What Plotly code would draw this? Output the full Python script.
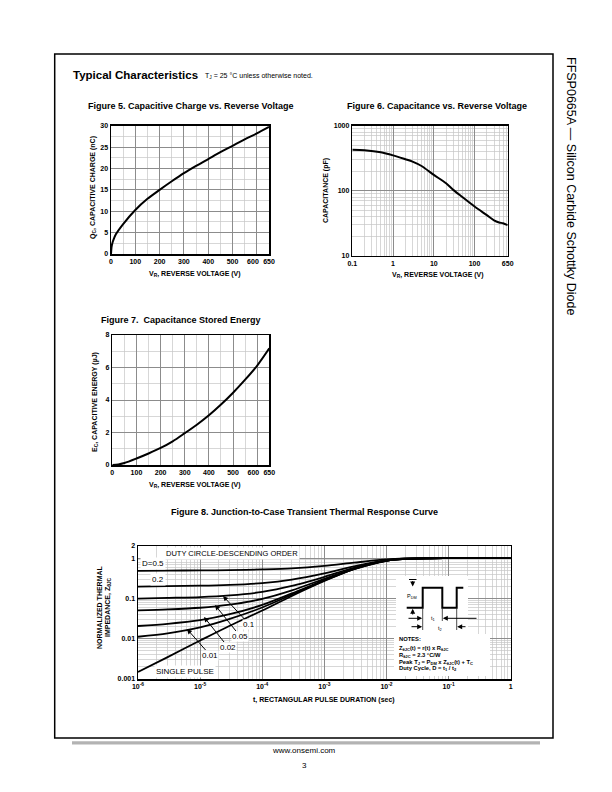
import plotly.graph_objects as go

FONT = "Liberation Sans, Arial, Helvetica, sans-serif"
W, H = 612, 792

# ---------------- data ----------------
# Figure 5 - capacitive charge
fig5_vr = [0, 2, 5, 10, 20, 50, 100, 150, 200, 250, 300, 350, 400, 450, 500, 550, 600, 650]
fig5_qc = [0, 1.5, 2.4, 3.3, 4.6, 7.0, 10.3, 12.9, 15.0, 17.0, 18.9, 20.6, 22.2, 23.8, 25.3, 26.8, 28.2, 29.7]
fig5_xticks = [0, 100, 200, 300, 400, 500, 600, 650]
fig5_xticktext = ["0", "100", "200", "300", "400", "500", "600\u2007\u2007", "\u2007650\u2007"]
fig5_yticks = [0, 5, 10, 15, 20, 25, 30]

# Figure 6 - capacitance
fig6_vr = [0.1, 0.2, 0.5, 1, 2, 3, 5, 10, 20, 30, 50, 100, 200, 300, 400, 500, 650]
fig6_c = [425, 418, 390, 350, 305, 280, 240, 175, 130, 103, 80, 57, 42, 35, 32.5, 31.5, 29.5]
fig6_xticks = [0.1, 1, 10, 100, 650]
fig6_xticktext = ["0.1", "1", "10", "100", "650"]
fig6_yticks = [10, 100, 1000]

# Figure 7 - stored energy
fig7_vr = [0, 25, 50, 100, 150, 200, 250, 300, 350, 400, 450, 500, 550, 600, 650]
fig7_ec = [0, 0.03, 0.12, 0.40, 0.71, 1.05, 1.46, 1.96, 2.48, 3.06, 3.72, 4.45, 5.25, 6.12, 7.18]
fig7_xticks = [0, 100, 200, 300, 400, 500, 600, 650]
fig7_xticktext = ["0", "100", "200", "300", "400", "500", "600\u2007\u2007", "\u2007650\u2007"]
fig7_yticks = [0, 2, 4, 6, 8]

# Figure 8 - transient thermal response
fig8_t = [1e-6, 3e-6, 1e-5, 3e-5, 1e-4, 3e-4, 1e-3, 3e-3, 1e-2, 2e-2, 5e-2, 1e-1, 1]
fig8_single = [0.0015, 0.0035, 0.009, 0.021, 0.050, 0.115, 0.27, 0.53, 0.86, 0.96, 0.99, 1.0, 1.0]
fig8_d001 = [0.0112, 0.0135, 0.019, 0.031, 0.0595, 0.124, 0.277, 0.535, 0.861, 0.96, 0.99, 1.0, 1.0]
fig8_d002 = [0.0207, 0.0234, 0.0288, 0.0406, 0.069, 0.133, 0.285, 0.54, 0.863, 0.961, 0.99, 1.0, 1.0]
fig8_d005 = [0.0505, 0.0533, 0.0586, 0.070, 0.0975, 0.159, 0.306, 0.553, 0.867, 0.962, 0.99, 1.0, 1.0]
fig8_d010 = [0.099, 0.103, 0.108, 0.119, 0.145, 0.204, 0.343, 0.577, 0.874, 0.964, 0.991, 1.0, 1.0]
fig8_d020 = [0.196, 0.203, 0.207, 0.217, 0.240, 0.292, 0.416, 0.624, 0.888, 0.968, 0.992, 1.0, 1.0]
fig8_d050 = [0.48, 0.49, 0.495, 0.505, 0.525, 0.557, 0.64, 0.77, 0.93, 0.98, 0.995, 1.0, 1.0]
fig8_xticks = [1e-6, 1e-5, 1e-4, 1e-3, 1e-2, 1e-1, 1]
fig8_xticktext = ["10<sup>-6</sup>", "10<sup>-5</sup>", "10<sup>-4</sup>", "10<sup>-3</sup>",
                  "10<sup>-2</sup>", "10<sup>-1</sup>", "1"]
fig8_yticks = [0.001, 0.01, 0.1, 1, 2]
fig8_yticktext = ["0.001", "0.01", "0.1", "1", "2"]


# ---------------- helpers ----------------
def px(x):
    return x / W


def py(y):
    return 1 - y / H


def log_minor(k0, k1, vmax):
    return [m * 10 ** k for k in range(k0, k1) for m in range(2, 10) if m * 10 ** k < vmax]


TICKFONT = dict(family=FONT, size=7, color="#000000", weight="bold")
MAJOR_GRID = "#8c8c8c"
MINOR_GRID = "#c6c6c6"


def axis(x0, x1, anchor, rng, tickvals, ticktext=None, typ="linear", minor=None):
    d = dict(domain=[x0, x1], anchor=anchor, range=rng, type=typ,
             showline=True, linecolor="black", linewidth=1.5, mirror=True,
             ticks="", showgrid=True, gridcolor=MAJOR_GRID, gridwidth=1,
             zeroline=False, tickfont=TICKFONT, tickmode="array", tickangle=0,
             tickvals=tickvals, ticktext=ticktext if ticktext else [str(v) for v in tickvals],
             fixedrange=True, automargin=False)
    if minor is not None:
        m = dict(showgrid=True, gridcolor=MINOR_GRID, gridwidth=0.7, ticks="")
        m.update(minor)
        d["minor"] = m
    return d


fig = go.Figure()
LINE = dict(color="black", width=2)

fig.add_trace(go.Scatter(x=fig5_vr, y=fig5_qc, mode="lines", line=dict(LINE, shape="spline", smoothing=0.8),
                         xaxis="x", yaxis="y", showlegend=False, hoverinfo="skip"))
fig.add_trace(go.Scatter(x=fig6_vr, y=fig6_c, mode="lines", line=dict(LINE, shape="spline", smoothing=0.8),
                         xaxis="x2", yaxis="y2", showlegend=False, hoverinfo="skip"))
fig.add_trace(go.Scatter(x=fig7_vr, y=fig7_ec, mode="lines", line=dict(LINE, shape="spline", smoothing=0.8),
                         xaxis="x3", yaxis="y3", showlegend=False, hoverinfo="skip"))
for series in [fig8_d050, fig8_d020, fig8_d010, fig8_d005, fig8_d002, fig8_d001, fig8_single]:
    fig.add_trace(go.Scatter(x=fig8_t, y=series, mode="lines",
                             line=dict(color="black", width=1.8, shape="spline", smoothing=0.8),
                             xaxis="x4", yaxis="y4", showlegend=False, hoverinfo="skip"))

layout = dict(
    width=W, height=H, autosize=False,
    margin=dict(l=0, r=0, t=0, b=0, pad=0, autoexpand=False),
    paper_bgcolor="white", plot_bgcolor="white", showlegend=False,
    font=dict(family=FONT, color="black"),
    xaxis=axis(px(111), px(269), "y", [0, 650], fig5_xticks, fig5_xticktext,
               minor=dict(tickmode="linear", tick0=0, dtick=50)),
    yaxis=axis(py(254), py(125.7), "x", [0, 30], fig5_yticks,
               minor=dict(tickmode="linear", tick0=0, dtick=2.5)),
    xaxis2=axis(px(352.3), px(507.7), "y2", [-1, 2.8129], fig6_xticks, fig6_xticktext, typ="log",
                minor=dict(tickmode="array", tickvals=log_minor(-1, 3, 650))),
    yaxis2=axis(py(255.7), py(125.7), "x2", [1, 3], fig6_yticks, typ="log",
                minor=dict(tickmode="array", tickvals=log_minor(1, 3, 1000))),
    xaxis3=axis(px(112.3), px(269.3), "y3", [0, 650], fig7_xticks, fig7_xticktext,
                minor=dict(tickmode="linear", tick0=0, dtick=50)),
    yaxis3=axis(py(465), py(335), "x3", [0, 8], fig7_yticks,
                minor=dict(tickmode="linear", tick0=0, dtick=1)),
    xaxis4=axis(px(138), px(510.7), "y4", [-6, 0], fig8_xticks, fig8_xticktext, typ="log",
                minor=dict(tickmode="array", tickvals=log_minor(-6, 0, 1))),
    yaxis4=axis(py(679), py(546), "x4", [-3, 0.30103], fig8_yticks, fig8_yticktext, typ="log",
                minor=dict(tickmode="array", tickvals=log_minor(-3, 1, 2))),
)
fig.update_layout(**layout)

annotations = []


def ann(text, x, y, size=7, xanchor="center", yanchor="middle", angle=0, bg=None, **kw):
    a = dict(text=text, x=px(x), y=py(y), xref="paper", yref="paper", showarrow=False,
             xanchor=xanchor, yanchor=yanchor, textangle=angle,
             font=dict(family=FONT, size=size, color="black"))
    if bg:
        a["bgcolor"] = bg
        a["borderpad"] = 1
    a.update(kw)
    annotations.append(a)


# page header / titles
ann("<b>Typical Characteristics</b>", 71, 75, size=11.5, xanchor="left")
ann("T<sub>J</sub> = 25 °C unless otherwise noted.", 203, 76, size=7, xanchor="left")
ann("<b>Figure 5. Capacitive Charge vs. Reverse Voltage</b>", 190, 106, size=9)
ann("<b>Figure 6. Capacitance vs. Reverse Voltage</b>", 437, 106, size=9)
ann("<b>Figure 7.  Capacitance Stored Energy</b>", 181, 320, size=9)
ann("<b>Figure 8. Junction-to-Case Transient Thermal Response Curve</b>", 304, 512, size=9)

# axis titles
ann("<b>Q<sub>C</sub>, CAPACITIVE CHARGE (nC)</b>", 93, 187, size=7, angle=-90)
ann("<b>V<sub>R</sub>, REVERSE VOLTAGE (V)</b>", 195, 274, size=7)
ann("<b>CAPACITANCE (pF)</b>", 326, 191, size=7, angle=-90)
ann("<b>V<sub>R</sub>, REVERSE VOLTAGE (V)</b>", 438, 275, size=7)
ann("<b>E<sub>C</sub>, CAPACITIVE ENERGY (µJ)</b>", 95, 402, size=7, angle=-90)
ann("<b>V<sub>R</sub>, REVERSE VOLTAGE (V)</b>", 195, 485, size=7)
ann("<b>NORMALIZED THERMAL</b>", 99, 607, size=7, angle=-90)
ann("<b>IMPEDANCE, Z<sub>θJC</sub></b>", 108, 607, size=7, angle=-90)
ann("<b>t, RECTANGULAR PULSE DURATION (sec)</b>", 324, 700, size=7)

# Figure 8 labels
ann("DUTY CIRCLE-DESCENDING ORDER", 232, 553, size=7.5, bg="white")
ann("D=0.5", 153, 563, size=8, bg="white")
ann("0.2", 158, 579, size=8, bg="white")
ann("SINGLE PULSE", 185, 671, size=8, bg="white")


def arrow_label(text, tx, ty, hx, hy):
    annotations.append(dict(text=text, x=px(hx), y=py(hy), xref="paper", yref="paper",
                            ax=tx - hx, ay=ty - hy, axref="pixel", ayref="pixel",
                            showarrow=True, arrowhead=2, arrowsize=1, arrowwidth=1,
                            arrowcolor="black", bgcolor="white", borderpad=0,
                            font=dict(family=FONT, size=8, color="black")))


arrow_label("0.1", 249, 624, 223, 596)
arrow_label("0.05", 240, 636, 215, 605)
arrow_label("0.02", 228, 647, 204, 617)
arrow_label("0.01", 210, 655, 187, 629)

# inset: pulse diagram and notes
shapes = []
shapes.append(dict(type="rect", xref="paper", yref="paper", x0=px(396), x1=px(468), y0=py(634), y1=py(576),
                   fillcolor="white", line=dict(width=0), layer="above"))
shapes.append(dict(type="rect", xref="paper", yref="paper", x0=px(394), x1=px(490), y0=py(676), y1=py(634),
                   fillcolor="white", line=dict(width=0), layer="above"))
wave = [(406.7, 607.7), (422.7, 607.7), (422.7, 587.7), (442.3, 587.7), (442.3, 607.7),
        (456.7, 607.7), (456.7, 587.7), (463.3, 587.7)]
path = "M " + " L ".join(f"{px(a):.5f},{py(b):.5f}" for a, b in wave)
shapes.append(dict(type="path", xref="paper", yref="paper", path=path,
                   line=dict(color="black", width=2), layer="above"))
for (x, y0, y1) in [(422.7, 608.5, 630), (442.3, 608.5, 621), (456.7, 608.5, 630)]:
    shapes.append(dict(type="line", xref="paper", yref="paper", x0=px(x), x1=px(x), y0=py(y0), y1=py(y1),
                       line=dict(color="black", width=0.7), layer="above"))
shapes.append(dict(type="line", xref="paper", yref="paper", x0=px(409), x1=px(416.5), y0=py(579.5), y1=py(579.5),
                   line=dict(color="black", width=1), layer="above"))


def small_arrow(hx, hy, tx, ty):
    annotations.append(dict(text="", x=px(hx), y=py(hy), xref="paper", yref="paper",
                            ax=tx - hx, ay=ty - hy, axref="pixel", ayref="pixel",
                            showarrow=True, arrowhead=2, arrowsize=1, arrowwidth=1, arrowcolor="black"))


small_arrow(412.7, 586.5, 412.7, 579.5)
small_arrow(412.7, 608.7, 412.7, 616)
small_arrow(422.2, 618.3, 407, 618.3)
small_arrow(442.8, 618.3, 478, 618.3)
small_arrow(422.2, 626.7, 410, 626.7)
small_arrow(457.2, 626.7, 467, 626.7)

ann("P<sub>DM</sub>", 412, 596, size=5.5)
ann("t<sub>1</sub>", 432.5, 618, size=5.5)
ann("t<sub>2</sub>", 440, 628, size=5.5)

notes = ["<b>NOTES:</b>",
         "<b>Z<sub>θJC</sub>(t) = r(t) x R<sub>θJC</sub></b>",
         "<b>R<sub>θJC</sub> = 2.3 °C/W</b>",
         "<b>Peak T<sub>J</sub> = P<sub>DM</sub> x Z<sub>θJC</sub>(t) + T<sub>C</sub></b>",
         "<b>Duty Cycle, D = t<sub>1</sub> / t<sub>2</sub></b>"]
for txt, yy in zip(notes, [638.5, 648.5, 655.5, 662.3, 668.5]):
    ann(txt, 397, yy, size=5.8, xanchor="left")

# page frame, side title, footer
shapes.append(dict(type="rect", xref="paper", yref="paper", x0=px(54.7), x1=px(553), y0=py(738), y1=py(54),
                   line=dict(color="black", width=1.5), fillcolor="rgba(0,0,0,0)", layer="above"))
shapes.append(dict(type="rect", xref="paper", yref="paper", x0=px(72), x1=px(540), y0=py(744.5), y1=py(741.3),
                   line=dict(width=0), fillcolor="#b3b3b3", layer="above"))
ann("FFSP0665A — Silicon Carbide Schottky Diode", 571, 186, size=12.5, angle=90)
ann("www.onsemi.com", 304, 750, size=8)
ann("3", 304, 765, size=8)

fig.update_layout(annotations=annotations, shapes=shapes)
fig.write_html("out.html",
               config={"displayModeBar": False, "staticPlot": True},
               post_script="document.body.style.margin='0';document.body.style.padding='0';"
                           "document.body.style.overflow='hidden';")
